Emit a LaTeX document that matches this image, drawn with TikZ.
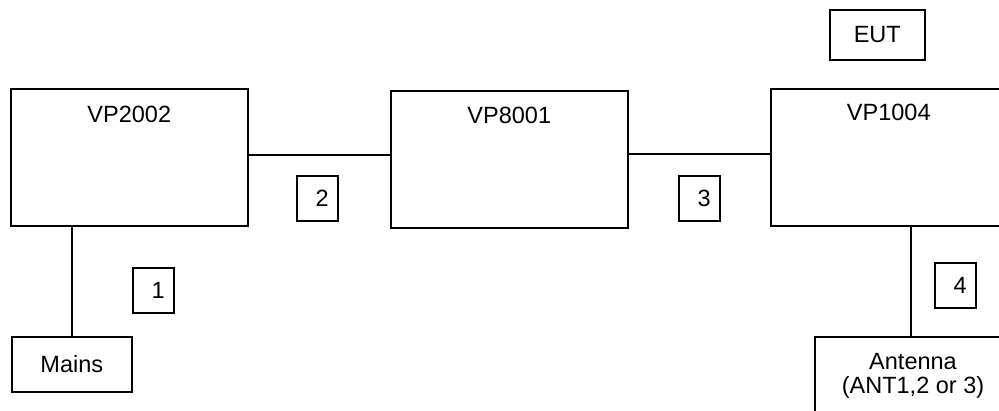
\documentclass[tikz,border=0pt]{standalone}
\usepackage{fontspec}
\setmainfont{Liberation Sans}
\begin{document}
\begin{tikzpicture}[x=1pt,y=-1pt,
  font=\fontsize{23.5pt}{24pt}\selectfont,
  box/.style={draw,line width=1.6pt,inner sep=0pt,anchor=north west},
  numbox/.style={draw,line width=1.6pt,anchor=north west,minimum width=41pt,minimum height=45pt,
    text width=23pt,align=right,inner xsep=9pt,inner ysep=0pt},
  lbl/.style={inner sep=0pt,anchor=base},
  wire/.style={line width=2.4pt}]
\useasboundingbox (0,0) rectangle (999,410);
\clip (0,0) rectangle (999,410);
% main boxes
\node[box,minimum width=237pt,minimum height=137pt] (vp2) at (10,88) {};
\node[box,minimum width=237pt,minimum height=137pt] (vp8) at (390,90) {};
\node[box,minimum width=236pt,minimum height=137pt] (vp1) at (770,88) {};
\node[lbl] (t2) at ([yshift=-34pt]vp2.north) {VP2002};
\node[lbl] (t8) at ([yshift=-33pt]vp8.north) {VP8001};
\node[lbl] (t1) at ([yshift=-32pt]vp1.north) {VP1004};
% small boxes
\node[box,minimum width=95pt,minimum height=50pt] (eut) at (829,9) {EUT};
\node[box,minimum width=120pt,minimum height=55pt] (mains) at (11,336) {Mains};
\node[box,minimum width=198pt,minimum height=124pt] (ant) at (814,336) {};
\node[inner sep=0pt,anchor=north,align=center] (antt) at (913,353) {Antenna\\(ANT1,2 or 3)};
% number boxes
\node[numbox] (n1) at (132,267) {1};
\node[numbox] (n2) at (296,175) {2};
\node[numbox] (n3) at (678,175) {3};
\node[numbox] (n4) at (934,262) {4};
% connectors
\coordinate (m) at (72,225);
\draw[wire] (m) -- (m |- mains.north);
\coordinate (c2) at (247,155);
\draw[wire] (c2) -- (c2 -| vp8.west);
\coordinate (c3) at (627,154);
\draw[wire] (c3) -- (c3 -| vp1.west);
\coordinate (c4) at (911,225);
\draw[wire] (c4) -- (c4 |- ant.north);
\end{tikzpicture}
\end{document}
